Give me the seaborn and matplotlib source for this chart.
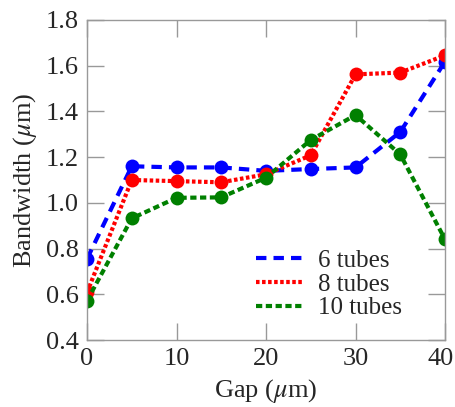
import matplotlib
matplotlib.use("Agg")
import matplotlib.pyplot as plt
import matplotlib.transforms as mtransforms
from matplotlib.lines import Line2D
import numpy as np
import pandas as pd
import seaborn as sns

gap = [0, 5, 10, 15, 20, 25, 30, 35, 40]
bw_6 = [0.755, 1.160, 1.155, 1.155, 1.140, 1.148, 1.155, 1.310, 1.618]
bw_8 = [0.608, 1.100, 1.095, 1.090, 1.125, 1.208, 1.562, 1.570, 1.645]
bw_10 = [0.572, 0.932, 1.022, 1.024, 1.110, 1.275, 1.384, 1.212, 0.840]
series_names = ["6 tubes", "8 tubes", "10 tubes"]
x_ticks = [0, 10, 20, 30, 40]
y_ticks = [0.4, 0.6, 0.8, 1.0, 1.2, 1.4, 1.6, 1.8]

colors = {"6 tubes": "#0000ff", "8 tubes": "#ff0000", "10 tubes": "#008000"}
dashes = {"6 tubes": (2.5, 1.7), "8 tubes": (0.85, 0.6), "10 tubes": (1.5, 0.85)}

df = pd.concat([
    pd.DataFrame({"gap": gap, "bw": vals, "series": name})
    for name, vals in zip(series_names, [bw_6, bw_8, bw_10])
], ignore_index=True)

sns.set_style("white")
plt.rcParams["font.family"] = ["Liberation Serif", "DejaVu Serif"]
plt.rcParams["mathtext.fontset"] = "stix"

fig = plt.figure(figsize=(4.56, 4.07), dpi=100)
ax = fig.add_axes([0.1908, 0.1646, 0.7851, 0.7863])

lw = 3.0
sns.lineplot(data=df, x="gap", y="bw", hue="series", style="series",
             hue_order=series_names, style_order=series_names,
             palette=colors, dashes=dashes, markers={n: "o" for n in series_names},
             markersize=10, markeredgewidth=0, linewidth=lw, legend=False, ax=ax)

ax.set_xlim(0, 40)
ax.set_ylim(0.4, 1.8)
ax.set_xticks(x_ticks)
ax.set_yticks(y_ticks)
ax.set_xticklabels([str(t) for t in x_ticks])
ax.set_yticklabels([f"{t:.1f}" for t in y_ticks])
for sp in ax.spines.values():
    sp.set_color("#999999")
    sp.set_linewidth(1.0)
    sp.set_visible(True)
ax.tick_params(axis="both", which="both", direction="in", length=12, width=1.0,
               color="#999999", labelsize=19, top=True, right=True,
               bottom=True, left=True, pad=6)
ax.set_xlabel(r"Gap ($\mu$m)", fontsize=19, labelpad=5)
ax.set_ylabel(r"Bandwidth ($\mu$m)", fontsize=19, labelpad=5)

# nudge the last x tick label so it stays inside the canvas
last = ax.get_xticklabels()[-1]
last.set_transform(last.get_transform() +
                   mtransforms.ScaledTranslation(-4 / 100, 0, fig.dpi_scale_trans))

handles = [Line2D([0], [0], color=colors[n], linewidth=lw, dashes=dashes[n])
           for n in series_names]
ax.legend(handles, series_names, loc="lower right", bbox_to_anchor=(0.93, 0.01),
          frameon=False, fontsize=18, handlelength=1.9, handletextpad=0.6,
          labelspacing=0.05, borderpad=0.2)

fig.savefig("out.png", dpi=100)
